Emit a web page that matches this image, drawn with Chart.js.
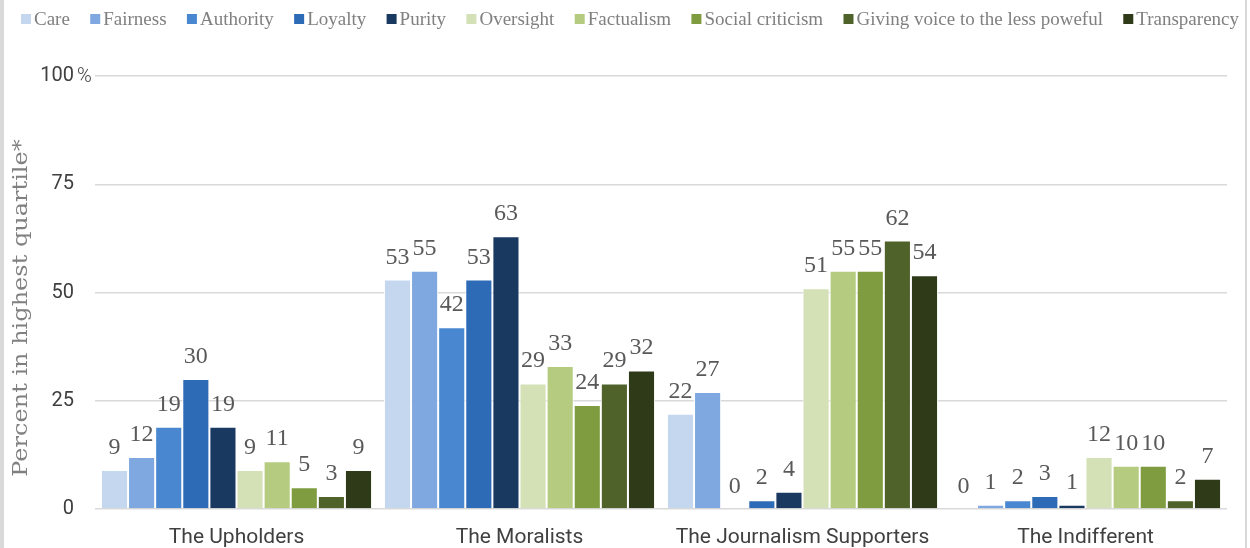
<!DOCTYPE html>
<html>
<head>
<meta charset="utf-8">
<script src="https://cdn.jsdelivr.net/npm/chart.js@4.4.1/dist/chart.umd.min.js"></script>
<style>
  html, body { margin: 0; padding: 0; background: #fff; }
  #wrap { position: relative; width: 1250px; height: 548px; }
</style>
</head>
<body>
<div id="wrap"><canvas id="moral-chart" width="1250" height="548"></canvas></div>
<script>
// ── data ──────────────────────────────────────────────
const groups = ['The Upholders', 'The Moralists', 'The Journalism Supporters', 'The Indifferent'];
const yTicks = [0, 25, 50, 75, 100];

const care         = [9, 53, 22, 0];
const fairness     = [12, 55, 27, 1];
const authority    = [19, 42, 0, 2];
const loyalty      = [30, 53, 2, 3];
const purity       = [19, 63, 4, 1];
const oversight    = [9, 29, 51, 12];
const factualism   = [11, 33, 55, 10];
const socialCrit   = [5, 24, 55, 10];
const givingVoice  = [3, 29, 62, 2];
const transparency = [9, 32, 54, 7];

const seriesNames = ['Care', 'Fairness', 'Authority', 'Loyalty', 'Purity', 'Oversight',
  'Factualism', 'Social criticism', 'Giving voice to the less poweful', 'Transparency'];
const seriesValues = [care, fairness, authority, loyalty, purity, oversight,
  factualism, socialCrit, givingVoice, transparency];
const seriesColors = ['#c5d7ef', '#7ea8df', '#4a87d1', '#2e6bb7', '#1a3961',
  '#d4e0b5', '#b5cb80', '#7f9d40', '#4f622a', '#2f3a18'];

const SERIF = "'Liberation Serif', 'DejaVu Serif', serif";
const SANS = "Roboto, 'Noto Sans', sans-serif";

// ── plugins ───────────────────────────────────────────
const framePlugin = {
  id: 'frame',
  beforeDraw(chart) {
    const ctx = chart.ctx;
    ctx.save();
    ctx.fillStyle = '#d9d9d9';
    ctx.fillRect(0, 0, 4, chart.height);
    ctx.fillRect(1245, 0, 2, chart.height);
    ctx.restore();
  }
};

// legend drawn by hand: small square, tight gap, grey serif text, spread 21..1239
const legendPlugin = {
  id: 'customLegend',
  afterDraw(chart) {
    const ctx = chart.ctx;
    const box = 10, gapText = 3, y = 19, left = 21, right = 1239;
    ctx.save();
    ctx.font = '19px ' + SERIF;
    const items = chart.data.datasets.map(ds => ({
      label: ds.label, color: ds.backgroundColor, w: ctx.measureText(ds.label).width
    }));
    const used = items.reduce((s, it) => s + box + gapText + it.w, 0);
    const gapItem = (right - left - used) / (items.length - 1);
    let x = left;
    ctx.textBaseline = 'middle';
    items.forEach(it => {
      ctx.fillStyle = it.color;
      ctx.fillRect(x, y - box / 2, box, box);
      ctx.fillStyle = '#808080';
      ctx.fillText(it.label, x + box + gapText, y + 1);
      x += box + gapText + it.w + gapItem;
    });
    ctx.restore();
  }
};

const valueLabels = {
  id: 'valueLabels',
  afterDatasetsDraw(chart) {
    const ctx = chart.ctx;
    ctx.save();
    ctx.font = '24px ' + SERIF;
    ctx.fillStyle = '#595959';
    ctx.textAlign = 'center';
    ctx.textBaseline = 'alphabetic';
    chart.data.datasets.forEach((ds, i) => {
      chart.getDatasetMeta(i).data.forEach((bar, j) => {
        ctx.fillText(String(ds.data[j]), bar.x, bar.y - 16);
      });
    });
    ctx.restore();
  }
};

// "%" after the 100 tick, plus the rotated axis title
const axisExtras = {
  id: 'axisExtras',
  afterDraw(chart) {
    const y = chart.scales.y.getPixelForValue(100);
    const ctx = chart.ctx;
    ctx.save();
    ctx.font = '300 20px ' + SANS;
    ctx.fillStyle = '#404040';
    ctx.textBaseline = 'middle';
    ctx.fillText('%', 77, y + 1);
    ctx.restore();

    ctx.save();
    ctx.translate(22, 308);
    ctx.scale(0.85, 1);
    ctx.rotate(-Math.PI / 2);
    ctx.font = "24px 'DejaVu Serif', serif";
    ctx.fillStyle = '#808080';
    ctx.textAlign = 'center';
    ctx.textBaseline = 'middle';
    ctx.fillText('Percent in highest quartile*', 0, 0);
    ctx.restore();
  }
};

// ── chart ─────────────────────────────────────────────
new Chart(document.getElementById('moral-chart'), {
  type: 'bar',
  data: {
    labels: groups,
    datasets: seriesNames.map((name, i) => ({
      label: name,
      data: seriesValues[i],
      backgroundColor: seriesColors[i],
      borderColor: '#ffffff',
      borderWidth: 1,
      borderSkipped: 'bottom',
      categoryPercentage: 0.958,
      barPercentage: 1.0
    }))
  },
  options: {
    responsive: false,
    animation: false,
    layout: { padding: { top: 76, right: 23, bottom: 0, left: 0 } },
    plugins: {
      legend: { display: false },
      tooltip: { enabled: false }
    },
    scales: {
      x: {
        grid: { display: false },
        border: { display: false },
        ticks: {
          color: '#404040',
          font: { family: SANS, size: 21 },
          padding: 8,
          autoSkip: false,
          maxRotation: 0
        },
        afterFit: (scale) => { scale.height = 39; }
      },
      y: {
        min: 0,
        max: 100,
        afterBuildTicks: (scale) => { scale.ticks = yTicks.map(v => ({ value: v })); },
        grid: { color: '#d9d9d9', lineWidth: 1.5, drawTicks: false },
        border: { display: false },
        ticks: {
          color: '#404040',
          font: { family: SANS, size: 20 },
          padding: 21
        },
        afterFit: (scale) => { scale.width = 95; }
      }
    }
  },
  plugins: [framePlugin, legendPlugin, valueLabels, axisExtras]
});
</script>
</body>
</html>
